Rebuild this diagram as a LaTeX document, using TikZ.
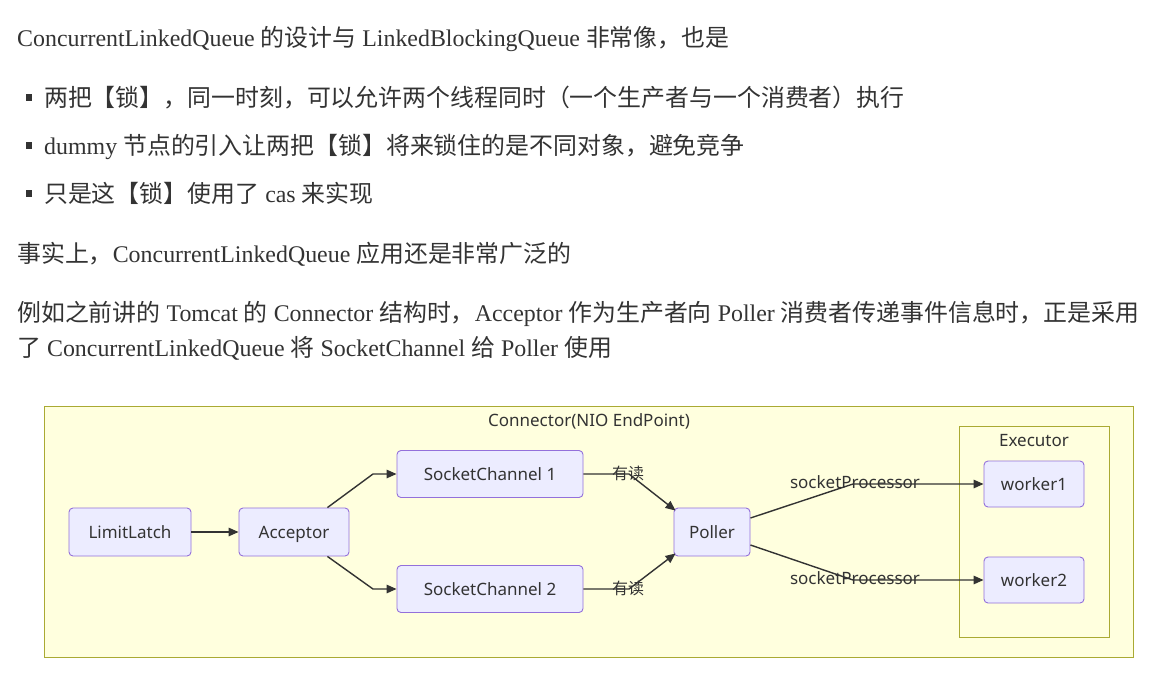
\documentclass[tikz,border=0pt]{standalone}
\usepackage{fontspec}
\setmainfont{Liberation Serif}
\newfontfamily\cjk{Noto Sans CJK SC}
\newfontfamily\dsans{Noto Sans}
\usetikzlibrary{arrows.meta}
\newcommand\zhf[1]{{\cjk #1}}
\definecolor{txt}{HTML}{333333}
\definecolor{clfill}{HTML}{FFFFDE}
\definecolor{cldraw}{HTML}{AAAA33}
\definecolor{ndfill}{HTML}{ECECFF}
\definecolor{nddraw}{HTML}{9370DB}
\definecolor{edge}{HTML}{333333}
\begin{document}
\begin{tikzpicture}[x=1pt,y=-1pt,
  para/.style={anchor=base west,inner sep=0pt,text=txt,font=\fontsize{23.9}{28}\selectfont},
  bul/.style={fill=txt,draw=none,minimum width=6pt,minimum height=7pt,inner sep=0pt},
  cluster/.style={fill=clfill,draw=cldraw,line width=0.9pt},
  cltitle/.style={text=txt,font=\dsans\fontsize{17}{20}\selectfont,inner sep=0pt},
  box/.style={draw=nddraw,fill=ndfill,line width=0.9pt,rounded corners=4pt,text=txt,
    font=\dsans\fontsize{17}{20}\selectfont,inner sep=0pt,text height=15pt,text depth=3pt},
  elabel/.style={text=txt,font=\dsans\fontsize{17}{20}\selectfont,inner sep=0pt},
  zlabel/.style={text=txt,font=\cjk\fontsize{16}{19}\selectfont,inner sep=0pt},
  arr/.style={draw=edge,line width=1.4pt,-{Triangle[length=10pt,width=8.5pt]}}]
\useasboundingbox (0,0) rectangle (1157,673);
\fill[white] (0,0) rectangle (1157,673);

% --- text
\node[para] (t1) at (17,46) {ConcurrentLinkedQueue \zhf{的设计与} LinkedBlockingQueue \zhf{非常像，也是}};
\node[bul] (b1) at (29,97) {};
\node[para] (t2) at (44,106) {\zhf{两把【锁】，同一时刻，可以允许两个线程同时（一个生产者与一个消费者）执行}};
\node[bul] (b2) at (29,145) {};
\node[para] (t3) at (44,154) {dummy \zhf{节点的引入让两把【锁】将来锁住的是不同对象，避免竞争}};
\node[bul] (b3) at (29,193) {};
\node[para] (t4) at (44,202) {\zhf{只是这【锁】使用了} cas \zhf{来实现}};
\node[para] (t5) at (17,262) {\zhf{事实上，}ConcurrentLinkedQueue \zhf{应用还是非常广泛的}};
\node[para] (t6) at (17,321) {\zhf{例如之前讲的} Tomcat \zhf{的} Connector \zhf{结构时，}Acceptor \zhf{作为生产者向} Poller \zhf{消费者传递事件信息时，正是采用}};
\node[para] (t7) at (17,356) {\zhf{了} ConcurrentLinkedQueue \zhf{将} SocketChannel \zhf{给} Poller \zhf{使用}};

% --- clusters
\draw[cluster] (44,406) rectangle (1133,657);
\node[cltitle] (ct) at (589,421) {Connector(NIO EndPoint)};
\draw[cluster] (959,426) rectangle (1109,637);
\node[cltitle] (et) at (1034,441) {Executor};

% --- nodes
\node[box,minimum width=122pt,minimum height=48pt] (LL) at (130,532) {LimitLatch};
\node[box,minimum width=110pt,minimum height=48pt] (AC) at (294,532) {Acceptor};
\node[box,minimum width=186pt,minimum height=47pt] (SC1) at (490,474) {SocketChannel 1};
\node[box,minimum width=186pt,minimum height=47pt] (SC2) at (490,589) {SocketChannel 2};
\node[box,minimum width=76pt,minimum height=48pt] (PO) at (712,532) {Poller};
\node[box,minimum width=100pt,minimum height=46pt] (W1) at (1034,484) {worker1};
\node[box,minimum width=100pt,minimum height=46pt] (W2) at (1034,580) {worker2};

% --- bend points
\coordinate (a1) at (373,474);
\coordinate (a2) at (373,589);
\coordinate (p1) at (629,474);
\coordinate (p2) at (629,589);
\coordinate (q1) at (853,484);
\coordinate (q2) at (853,580);

% --- edges
\draw[arr] (LL.east) -- (AC.west);
\draw[arr] ([xshift=-22pt]AC.north east) -- (a1) -- (SC1.west);
\draw[arr] ([xshift=-22pt]AC.south east) -- (a2) -- (SC2.west);
\draw[arr] (SC1.east) -- (p1) -- ([shift={(2pt,-3pt)}]PO.north west);
\draw[arr] (SC2.east) -- (p2) -- ([shift={(2pt,3pt)}]PO.south west);
\draw[arr] ([yshift=14pt]PO.east) -- (q1) -- (W1.west);
\draw[arr] ([yshift=-13pt]PO.east) -- (q2) -- (W2.west);

% --- edge labels
\node[zlabel] (l1) at (628,473) {有读};
\node[zlabel] (l2) at (628,588) {有读};
\node[elabel] (l3) at (855,482) {socketProcessor};
\node[elabel] (l4) at (855,578) {socketProcessor};
\end{tikzpicture}
\end{document}
